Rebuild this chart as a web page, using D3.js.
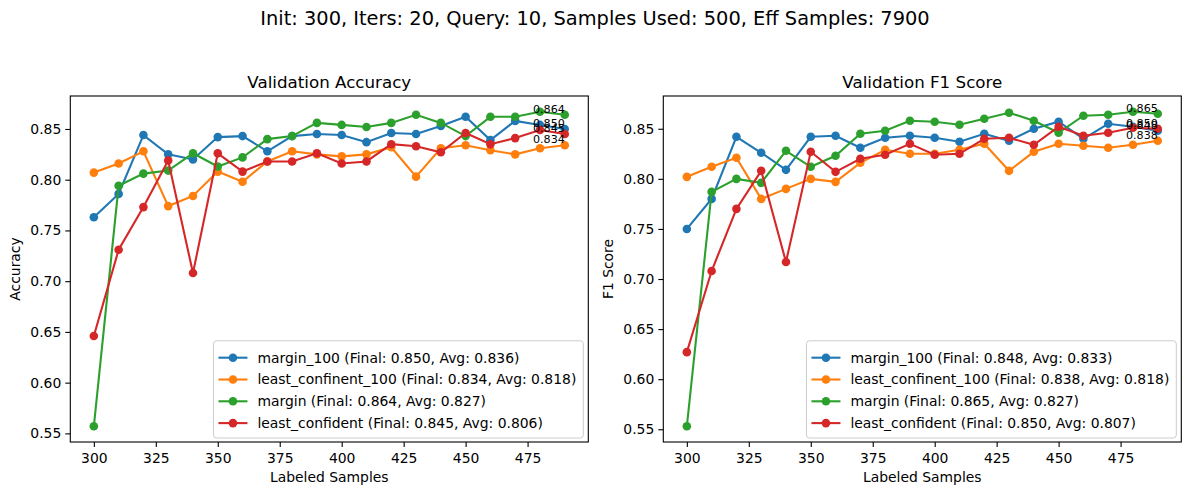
<!DOCTYPE html>
<html>
<head>
<meta charset="utf-8">
<script src="https://cdn.jsdelivr.net/npm/d3@7"></script>
<style>
  body { margin: 0; background: #fff; }
  svg { display: block; font-family: "DejaVu Sans", sans-serif; }
</style>
</head>
<body>
<svg id="chart" width="1189" height="495"></svg>
<script>
const samples = [300, 310, 320, 330, 340, 350, 360, 370, 380, 390, 400, 410, 420, 430, 440, 450, 460, 470, 480, 490];
const xTicks = [300, 325, 350, 375, 400, 425, 450, 475];
const yTicks = [0.55, 0.60, 0.65, 0.70, 0.75, 0.80, 0.85];

const seriesNames = ['margin_100', 'least_confinent_100', 'margin', 'least_confident'];
const colors = ['#1f77b4', '#ff7f0e', '#2ca02c', '#d62728'];

// validation accuracy
const accMargin100 = [0.763, 0.786, 0.844, 0.825, 0.820, 0.842, 0.843, 0.828, 0.843, 0.845, 0.844, 0.837, 0.846, 0.845, 0.853, 0.862, 0.839, 0.858, 0.854, 0.850];
const accLeastConf100 = [0.807, 0.816, 0.828, 0.774, 0.784, 0.808, 0.798, 0.818, 0.828, 0.825, 0.823, 0.825, 0.832, 0.803, 0.831, 0.834, 0.829, 0.825, 0.831, 0.834];
const accMargin = [0.557, 0.794, 0.806, 0.809, 0.826, 0.813, 0.822, 0.840, 0.843, 0.856, 0.854, 0.852, 0.856, 0.864, 0.856, 0.843, 0.862, 0.862, 0.867, 0.864];
const accLeastConf = [0.646, 0.731, 0.773, 0.819, 0.708, 0.826, 0.808, 0.818, 0.818, 0.826, 0.816, 0.818, 0.835, 0.833, 0.827, 0.846, 0.835, 0.841, 0.849, 0.845];
const accLegend = [
  'margin_100 (Final: 0.850, Avg: 0.836)',
  'least_confinent_100 (Final: 0.834, Avg: 0.818)',
  'margin (Final: 0.864, Avg: 0.827)',
  'least_confident (Final: 0.845, Avg: 0.806)'
];

// validation f1
const f1Margin100 = [0.750, 0.780, 0.842, 0.826, 0.809, 0.842, 0.843, 0.831, 0.841, 0.843, 0.841, 0.837, 0.845, 0.838, 0.850, 0.857, 0.840, 0.855, 0.852, 0.848];
const f1LeastConf100 = [0.802, 0.812, 0.821, 0.780, 0.790, 0.800, 0.797, 0.816, 0.829, 0.825, 0.825, 0.829, 0.835, 0.808, 0.827, 0.835, 0.833, 0.831, 0.834, 0.838];
const f1Margin = [0.553, 0.787, 0.800, 0.796, 0.828, 0.812, 0.823, 0.845, 0.848, 0.858, 0.857, 0.854, 0.860, 0.866, 0.858, 0.846, 0.863, 0.864, 0.867, 0.865];
const f1LeastConf = [0.627, 0.708, 0.770, 0.808, 0.717, 0.827, 0.807, 0.820, 0.824, 0.835, 0.824, 0.825, 0.840, 0.841, 0.834, 0.852, 0.843, 0.846, 0.851, 0.850];
const f1Legend = [
  'margin_100 (Final: 0.848, Avg: 0.833)',
  'least_confinent_100 (Final: 0.838, Avg: 0.818)',
  'margin (Final: 0.865, Avg: 0.827)',
  'least_confident (Final: 0.850, Avg: 0.807)'
];

const svg = d3.select('#chart');

svg.append('text')
  .attr('x', 595).attr('y', 25)
  .attr('text-anchor', 'middle')
  .style('font-size', '19.4px')
  .text('Init: 300, Iters: 20, Query: 10, Samples Used: 500, Eff Samples: 7900');

function drawPanel(left, title, ylabel, seriesVals, legendLabels) {
  const top = 96, width = 518, height = 346;
  const g = svg.append('g').attr('transform', `translate(${left}, ${top})`);

  // matplotlib-like 5% margins
  const xPad = (d3.max(samples) - d3.min(samples)) * 0.05;
  const x = d3.scaleLinear()
    .domain([d3.min(samples) - xPad, d3.max(samples) + xPad])
    .range([0, width]);
  const allVals = seriesVals.flat();
  const lo = d3.min(allVals), hi = d3.max(allVals);
  const yPad = (hi - lo) * 0.05;
  const y = d3.scaleLinear().domain([lo - yPad, hi + yPad]).range([height, 0]);

  // Axes
  const xAxis = g.append('g')
    .attr('transform', `translate(0, ${height})`)
    .call(d3.axisBottom(x).tickValues(xTicks).tickSize(5).tickPadding(4).tickFormat(d3.format('d')));
  const yAxis = g.append('g')
    .call(d3.axisLeft(y).tickValues(yTicks).tickSize(5).tickPadding(4).tickFormat(d3.format('.2f')));
  [xAxis, yAxis].forEach(a => {
    a.select('.domain').remove();
    a.selectAll('line').attr('stroke', '#000').attr('stroke-width', 1.1);
    a.selectAll('text').attr('fill', '#000').style('font-size', '13.9px').style('font-family', '"DejaVu Sans", sans-serif');
  });
  xAxis.selectAll('text').attr('dy', '0.85em');

  const line = d3.line()
    .x((d, i) => x(samples[i]))
    .y(d => y(d));

  seriesVals.forEach((vals, k) => {
    g.append('path')
      .datum(vals)
      .attr('fill', 'none')
      .attr('stroke', colors[k])
      .attr('stroke-width', 2.1)
      .attr('d', line);
    g.selectAll(null)
      .data(vals)
      .enter().append('circle')
      .attr('cx', (d, i) => x(samples[i]))
      .attr('cy', d => y(d))
      .attr('r', 4.3)
      .attr('fill', colors[k]);
  });

  // final value labels
  seriesVals.forEach(vals => {
    const last = vals[vals.length - 1];
    g.append('text')
      .attr('x', x(samples[samples.length - 1]))
      .attr('y', y(last) - 2)
      .attr('text-anchor', 'end')
      .style('font-size', '11.1px')
      .text(last.toFixed(3));
  });

  // frame
  g.append('rect')
    .attr('width', width).attr('height', height)
    .attr('fill', 'none').attr('stroke', '#000').attr('stroke-width', 1.1);

  // Labels
  g.append('text')
    .attr('x', width / 2).attr('y', -8)
    .attr('text-anchor', 'middle')
    .style('font-size', '16.7px')
    .text(title);
  g.append('text')
    .attr('x', width / 2).attr('y', height + 40)
    .attr('text-anchor', 'middle')
    .style('font-size', '13.9px')
    .text('Labeled Samples');
  g.append('text')
    .attr('transform', 'rotate(-90)')
    .attr('x', -height / 2).attr('y', -50)
    .attr('text-anchor', 'middle')
    .style('font-size', '13.9px')
    .text(ylabel);

  // Legend (lower right)
  const rowH = 21.8, handleW = 29, textGap = 10, padX = 5, padY = 6;
  const lg = g.append('g');
  const box = lg.append('rect');
  const texts = legendLabels.map((lab, k) => lg.append('text')
    .attr('y', padY + rowH * k + rowH / 2)
    .attr('dy', '0.35em')
    .style('font-size', '13.9px')
    .text(lab));
  const maxW = d3.max(texts, t => t.node().getComputedTextLength());
  const boxW = padX + handleW + textGap + maxW + padX + 2;
  const boxH = padY * 2 + rowH * legendLabels.length - 2;
  const bx = width - 5 - boxW, by = height - 4 - boxH;
  lg.attr('transform', `translate(${bx}, ${by})`);
  box.attr('width', boxW).attr('height', boxH).attr('rx', 3)
    .attr('fill', 'rgba(255,255,255,0.8)').attr('stroke', '#ccc').attr('stroke-width', 1);
  texts.forEach((t, k) => {
    const cy = padY + rowH * k + rowH / 2;
    t.attr('x', padX + handleW + textGap);
    lg.append('line')
      .attr('x1', padX).attr('x2', padX + handleW)
      .attr('y1', cy).attr('y2', cy)
      .attr('stroke', colors[k]).attr('stroke-width', 2.1);
    lg.append('circle')
      .attr('cx', padX + handleW / 2).attr('cy', cy).attr('r', 4.3)
      .attr('fill', colors[k]);
  });
}

drawPanel(70.3, 'Validation Accuracy', 'Accuracy',
  [accMargin100, accLeastConf100, accMargin, accLeastConf], accLegend);
drawPanel(663.3, 'Validation F1 Score', 'F1 Score',
  [f1Margin100, f1LeastConf100, f1Margin, f1LeastConf], f1Legend);
</script>
</body>
</html>
